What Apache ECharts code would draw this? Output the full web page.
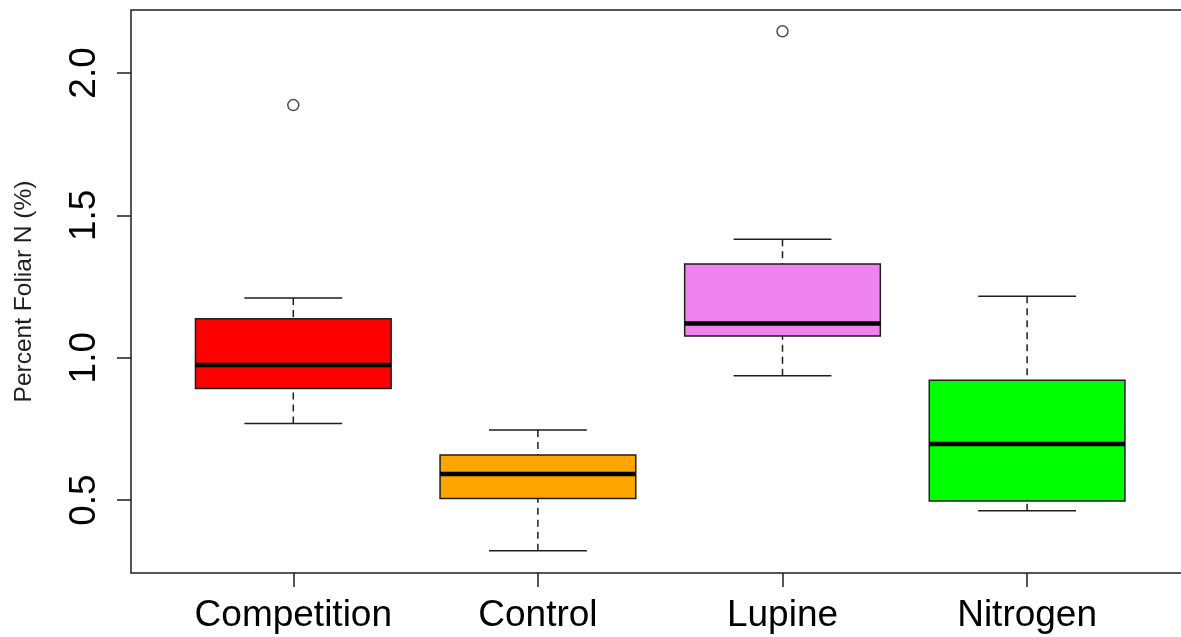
<!DOCTYPE html>
<html>
<head>
<meta charset="utf-8">
<script src="https://cdn.jsdelivr.net/npm/echarts@6/dist/echarts.min.js"></script>
<style>
  html, body { margin: 0; padding: 0; background: #fff; }
  #chart { width: 1181px; height: 637px; }
</style>
</head>
<body>
<div id="chart"></div>
<script>
// ---- data ----
const categories = ['Competition', 'Control', 'Lupine', 'Nitrogen'];
const whiskerLow  = [0.769, 0.322, 0.937, 0.463];
const q1          = [0.892, 0.506, 1.076, 0.497];
const median      = [0.974, 0.592, 1.120, 0.697];
const q3          = [1.137, 0.658, 1.329, 0.921];
const whiskerHigh = [1.210, 0.746, 1.416, 1.216];
const outlierCats = ['Competition', 'Lupine'];
const outlierVals = [1.887, 2.146];
const yTicks = [0.5, 1.0, 1.5, 2.0];
const yTitle = 'Percent Foliar N (%)';

// ---- styles ----
const fills = ['#FF0000', '#FFA500', '#EE82EE', '#00FF00'];
const FONT = '"Liberation Sans", Arial, sans-serif';
const INK = '#1e1e1e';
const LW = 1.5;

const boxData = categories.map((c, i) => [i, whiskerLow[i], q1[i], median[i], q3[i], whiskerHigh[i]]);
const outlierData = outlierCats.map((c, i) => [categories.indexOf(c), outlierVals[i]]);

const chart = echarts.init(document.getElementById('chart'), null, { renderer: 'canvas' });

chart.setOption({
  animation: false,
  backgroundColor: '#ffffff',
  grid: { left: 171, right: 31.6, top: 10, bottom: 64, containLabel: false },
  xAxis: {
    type: 'category',
    data: categories,
    axisLine: { show: false },
    axisTick: { show: true, interval: 0, alignWithLabel: true, length: 14, lineStyle: { color: INK, width: LW } },
    axisLabel: { interval: 0, color: '#000', fontFamily: FONT, fontSize: 37, margin: 24 },
    splitLine: { show: false }
  },
  yAxis: {
    type: 'value',
    min: 0.244,
    max: 2.221,
    offset: 40,
    name: yTitle,
    nameLocation: 'middle',
    nameGap: 94,
    nameTextStyle: { color: INK, fontFamily: FONT, fontSize: 24.5 },
    axisLine: { show: false },
    axisTick: { show: true, length: 14, customValues: yTicks, lineStyle: { color: INK, width: LW } },
    axisLabel: {
      customValues: yTicks,
      rotate: 90,
      color: '#000',
      fontFamily: FONT,
      fontSize: 37,
      margin: 28,
      formatter: v => Number(v).toFixed(1)
    },
    splitLine: { show: false }
  },
  graphic: [{
    type: 'rect',
    silent: true,
    z: 100,
    shape: { x: 131, y: 10, width: 1058, height: 563 },
    style: { fill: 'none', stroke: INK, lineWidth: LW }
  }],
  series: [
    {
      type: 'custom',
      data: boxData,
      encode: { x: 0, y: [1, 2, 3, 4, 5] },
      renderItem: function (params, api) {
        const i = api.value(0);
        const pLo = api.coord([i, api.value(1)]);
        const pQ1 = api.coord([i, api.value(2)]);
        const pMed = api.coord([i, api.value(3)]);
        const pQ3 = api.coord([i, api.value(4)]);
        const pHi = api.coord([i, api.value(5)]);
        const band = api.size([1, 0])[0];
        const bw = band * 0.8;
        const cw = band * 0.4;
        const x = pMed[0];
        const lineStyle = { stroke: INK, lineWidth: LW };
        return {
          type: 'group',
          children: [
            { type: 'line', shape: { x1: x, y1: pHi[1], x2: x, y2: pQ3[1] },
              style: Object.assign({ lineDash: [7, 5] }, lineStyle) },
            { type: 'line', shape: { x1: x, y1: pLo[1], x2: x, y2: pQ1[1] },
              style: Object.assign({ lineDash: [7, 5] }, lineStyle) },
            { type: 'line', shape: { x1: x - cw / 2, y1: pHi[1], x2: x + cw / 2, y2: pHi[1] }, style: lineStyle },
            { type: 'line', shape: { x1: x - cw / 2, y1: pLo[1], x2: x + cw / 2, y2: pLo[1] }, style: lineStyle },
            { type: 'rect', shape: { x: x - bw / 2, y: pQ3[1], width: bw, height: pQ1[1] - pQ3[1] },
              style: { fill: fills[params.dataIndex], stroke: INK, lineWidth: LW } },
            { type: 'line', shape: { x1: x - bw / 2, y1: pMed[1], x2: x + bw / 2, y2: pMed[1] },
              style: { stroke: '#000', lineWidth: 4.5 } }
          ]
        };
      }
    },
    {
      type: 'scatter',
      data: outlierData,
      symbol: 'circle',
      symbolSize: 11,
      itemStyle: { color: 'rgba(0,0,0,0)', borderColor: INK, borderWidth: LW }
    }
  ]
});
</script>
</body>
</html>
